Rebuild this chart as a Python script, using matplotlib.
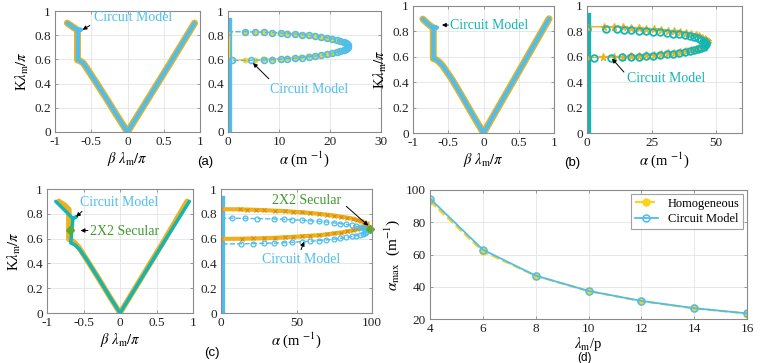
import numpy as np
import matplotlib
matplotlib.use('Agg')
import matplotlib.pyplot as plt

plt.rcParams['font.family'] = 'serif'
plt.rcParams['font.serif'] = ['Liberation Serif', 'DejaVu Serif']
plt.rcParams['mathtext.fontset'] = 'stix'

ORANGE = '#EDB120'
YELLOW = '#FFD21A'
BLUE = '#4DBEEE'
TEAL = '#14B5B5'
GREEN = '#3E9B2A'

# ---------------- Panel (a) : dispersion ----------------
beta_a_homo = [-0.83, -0.77, -0.72, -0.69, -0.69, -0.66, -0.61, -0.565, -0.45, -0.30, -0.15, 0.0, 0.30, 0.60, 0.925]
K_a_homo = [0.90, 0.875, 0.855, 0.84, 0.595, 0.59, 0.57, 0.53, 0.425, 0.285, 0.14, 0.0, 0.29, 0.58, 0.90]
beta_a_circ = [-0.83, -0.77, -0.72, -0.685, -0.645, -0.685, -0.685, -0.66, -0.61, -0.565, -0.45, -0.30, -0.15, 0.0, 0.30, 0.60, 0.925]
K_a_circ = [0.90, 0.875, 0.855, 0.845, 0.845, 0.845, 0.595, 0.59, 0.57, 0.53, 0.425, 0.285, 0.14, 0.0, 0.29, 0.58, 0.90]

# attenuation (a)
K_a_homo_up = [0.830, 0.829, 0.827, 0.825, 0.822, 0.818, 0.815, 0.810, 0.805, 0.800, 0.794, 0.787, 0.780, 0.771, 0.763, 0.755, 0.745, 0.736, 0.727, 0.717]
K_a_homo_lo = [0.708, 0.698, 0.689, 0.680, 0.670, 0.662, 0.654, 0.646, 0.639, 0.631, 0.626, 0.620, 0.615, 0.610, 0.607, 0.603, 0.600, 0.598, 0.596, 0.595]
alpha_a_homo_up = [0, 3.3, 5.2, 6.9, 8.6, 10.2, 11.5, 13.0, 14.3, 15.7, 16.9, 18.1, 19.2, 20.2, 21.0, 21.7, 22.4, 22.8, 23.1, 23.3]
alpha_a_homo_lo = [23.3, 23.1, 22.8, 22.4, 21.7, 21.0, 20.2, 19.2, 18.1, 16.9, 15.7, 14.3, 13.0, 11.5, 10.2, 8.6, 6.9, 5.2, 3.3, 0]
K_a_circ_up = [0.830, 0.829, 0.827, 0.825, 0.822, 0.818, 0.814, 0.810, 0.805, 0.799, 0.793, 0.786, 0.778, 0.770, 0.762, 0.753, 0.744, 0.734, 0.724, 0.715]
K_a_circ_lo = [0.705, 0.696, 0.686, 0.676, 0.667, 0.658, 0.650, 0.642, 0.634, 0.627, 0.621, 0.615, 0.610, 0.606, 0.602, 0.598, 0.595, 0.593, 0.591, 0.590]
alpha_a_circ_up = [0, 3.3, 5.2, 7.0, 8.7, 10.3, 11.6, 13.2, 14.5, 15.9, 17.1, 18.3, 19.4, 20.4, 21.3, 22.0, 22.7, 23.1, 23.4, 23.6]
alpha_a_circ_lo = [23.6, 23.4, 23.1, 22.7, 22.0, 21.3, 20.4, 19.4, 18.3, 17.1, 15.9, 14.5, 13.2, 11.6, 10.3, 8.7, 7.0, 4.5, 0.8, 0]

# ---------------- Panel (b) ----------------
beta_b_homo = [-0.86, -0.80, -0.745, -0.712, -0.712, -0.68, -0.64, -0.58, -0.45, -0.30, -0.15, 0.0, 0.30, 0.60, 0.93]
K_b_homo = [0.897, 0.865, 0.84, 0.83, 0.585, 0.58, 0.565, 0.53, 0.425, 0.285, 0.14, 0.0, 0.29, 0.58, 0.90]
beta_b_circ = [-0.86, -0.80, -0.745, -0.71, -0.665, -0.71, -0.71, -0.68, -0.64, -0.58, -0.45, -0.30, -0.15, 0.0, 0.30, 0.60, 0.93]
K_b_circ = [0.897, 0.865, 0.84, 0.83, 0.83, 0.83, 0.585, 0.58, 0.565, 0.53, 0.425, 0.285, 0.14, 0.0, 0.29, 0.58, 0.90]

K_b_homo_up = [0.837, 0.836, 0.834, 0.832, 0.829, 0.825, 0.821, 0.816, 0.812, 0.806, 0.800, 0.792, 0.785, 0.777, 0.768, 0.760, 0.750, 0.740, 0.731, 0.721]
K_b_homo_lo = [0.711, 0.702, 0.692, 0.682, 0.672, 0.664, 0.656, 0.647, 0.640, 0.633, 0.627, 0.620, 0.616, 0.611, 0.607, 0.604, 0.600, 0.598, 0.596, 0.595]
alpha_b_homo_up = [0, 6.6, 10.3, 13.8, 17.1, 20.3, 22.9, 25.9, 28.5, 31.3, 33.7, 36.1, 38.2, 40.3, 42.0, 43.4, 44.6, 45.6, 46.2, 46.5]
alpha_b_homo_lo = [46.5, 46.2, 45.6, 44.6, 43.4, 42.0, 40.3, 38.2, 36.1, 33.7, 31.3, 28.5, 25.9, 22.9, 20.3, 17.1, 13.8, 10.3, 6.2, 0]
K_b_circ_up = [0.818, 0.817, 0.815, 0.813, 0.810, 0.807, 0.803, 0.799, 0.794, 0.788, 0.783, 0.776, 0.769, 0.761, 0.753, 0.745, 0.736, 0.727, 0.718, 0.709]
K_b_circ_lo = [0.699, 0.690, 0.681, 0.672, 0.663, 0.655, 0.647, 0.639, 0.632, 0.625, 0.620, 0.614, 0.609, 0.605, 0.601, 0.598, 0.595, 0.593, 0.592, 0.591]
alpha_b_circ_up = [0, 7.2, 11.7, 14.3, 16.9, 20.1, 22.7, 25.7, 28.2, 31.0, 33.3, 35.7, 37.8, 39.8, 41.5, 42.9, 44.2, 45.1, 45.7, 46.0]
alpha_b_circ_lo = [46.0, 45.7, 45.1, 44.2, 42.9, 41.5, 39.8, 37.8, 35.7, 33.3, 31.0, 28.2, 25.7, 22.7, 20.1, 16.9, 13.7, 9.4, 2.9, 0]

# ---------------- Panel (c) ----------------
beta_c_homo = [-0.84, -0.76, -0.71, -0.70, -0.70, -0.66, -0.62, -0.565, -0.45, -0.30, -0.15, 0.0, 0.30, 0.60, 0.92]
K_c_homo = [0.90, 0.87, 0.84, 0.835, 0.595, 0.585, 0.565, 0.53, 0.425, 0.285, 0.14, 0.0, 0.29, 0.58, 0.90]
beta_c_circ = [-0.88, -0.76, -0.645, -0.60, -0.645, -0.675, -0.62, -0.55, -0.45, -0.30, -0.15, 0.0, 0.30, 0.60, 0.95]
K_c_circ = [0.90, 0.83, 0.762, 0.775, 0.762, 0.565, 0.55, 0.51, 0.425, 0.285, 0.14, 0.0, 0.285, 0.57, 0.90]
beta_c_sec = [-0.69]
K_c_sec = [0.67]

K_c_homo_up = [0.837, 0.836, 0.834, 0.832, 0.829, 0.825, 0.822, 0.817, 0.812, 0.806, 0.800, 0.793, 0.786, 0.777, 0.769, 0.761, 0.751, 0.741, 0.732, 0.722]
K_c_homo_lo = [0.713, 0.703, 0.694, 0.684, 0.675, 0.666, 0.658, 0.649, 0.642, 0.634, 0.627, 0.623, 0.618, 0.614, 0.610, 0.606, 0.603, 0.601, 0.599, 0.598]
alpha_c_homo_up = [0, 12.5, 17.0, 23.0, 28.7, 35.5, 42.1, 47.6, 53.8, 59.2, 64.9, 69.9, 75.0, 79.3, 83.6, 87.1, 90.0, 92.6, 94.6, 96.4]
alpha_c_homo_lo = [96.4, 95.8, 94.6, 92.6, 90.0, 87.1, 83.6, 79.3, 75.0, 69.9, 64.9, 59.2, 53.8, 47.6, 42.1, 35.5, 28.7, 21.4, 13.6, 0]
K_c_circ_up = [0.766, 0.765, 0.763, 0.761, 0.759, 0.756, 0.752, 0.748, 0.744, 0.739, 0.734, 0.727, 0.721, 0.714, 0.706, 0.699, 0.691, 0.682, 0.674, 0.666]
K_c_circ_lo = [0.657, 0.649, 0.641, 0.632, 0.624, 0.617, 0.609, 0.602, 0.596, 0.589, 0.584, 0.579, 0.575, 0.570, 0.567, 0.564, 0.562, 0.560, 0.558, 0.557]
alpha_c_circ_up = [0, 7.0, 16.0, 24.0, 35.3, 41.9, 47.3, 53.6, 58.8, 64.6, 69.5, 74.6, 78.9, 83.1, 86.7, 89.6, 92.2, 94.1, 95.3, 95.9]
alpha_c_circ_lo = [95.9, 95.3, 94.1, 92.2, 89.6, 86.7, 83.1, 78.9, 74.6, 69.5, 64.6, 58.8, 53.6, 47.3, 41.9, 35.3, 28.5, 21.3, 13.5, 0]
alpha_c_sec = [99.0]
K_c_sec_alpha = [0.68]

# passband (alpha = 0) lines
K_pass = [0.0, 0.91]
alpha_pass = [0.0, 0.0]
K_stop_a = [0.60, 0.83]

# ---------------- Panel (d) ----------------
lam_ratio = [4, 6, 8, 10, 12, 14, 16]
amax_homo = [93.0, 62.0, 46.8, 37.3, 31.1, 26.6, 23.4]
amax_circ = [94.7, 63.0, 46.9, 37.4, 31.2, 26.7, 23.5]

yticks01 = [0, 0.2, 0.4, 0.6, 0.8, 1]
yticklabels01 = ['0', '0.2', '0.4', '0.6', '0.8', '1']
bticks = [-1, -0.5, 0, 0.5, 1]
bticklabels = ['-1', '-0.5', '0', '0.5', '1']

W, H = 761, 363
fig = plt.figure(figsize=(W / 100, H / 100), dpi=100)


def add_ax(x0, x1, ytop, ybot):
    return fig.add_axes([x0 / W, (H - ybot) / H, (x1 - x0) / W, (ybot - ytop) / H])


def style(ax):
    ax.grid(True, color='#e4e4e4', lw=0.6)
    ax.set_axisbelow(True)
    for s in ax.spines.values():
        s.set_color('#8a8a8a')
        s.set_linewidth(0.8)
    ax.tick_params(direction='in', length=2.5, width=0.6, color='#8a8a8a',
                   labelsize=9.5, labelcolor='#222222', pad=3,
                   top=True, right=True)


def arrow(ax, tip, tail, color='k'):
    ax.annotate('', xy=tip, xytext=tail,
                arrowprops=dict(arrowstyle='-|>', color=color, lw=0.7,
                                mutation_scale=6, shrinkA=0, shrinkB=0))


def left_panel(ax, bh, kh, bc, kc, ccol, lw_h=5, lw_c=3):
    ax.plot(bh, kh, color=ORANGE, lw=lw_h, solid_capstyle='round', solid_joinstyle='round')
    ax.plot(bc, kc, color=ccol, lw=lw_c, solid_capstyle='round', solid_joinstyle='round')
    ax.set_xlim(-1, 1)
    ax.set_ylim(0, 1)
    ax.set_xticks(bticks)
    ax.set_xticklabels(bticklabels)
    ax.set_yticks(yticks01)
    ax.set_yticklabels(yticklabels01)
    ax.set_xlabel(r'$\beta\ \lambda_{\rm m}/\pi$', fontsize=10.5, labelpad=1)
    ax.set_ylabel(r'K$\lambda_{\rm m}/\pi$', fontsize=10.5, labelpad=2)
    style(ax)


def right_panel(ax, xmax, xt):
    ax.set_xlim(0, xmax)
    ax.set_ylim(0, 1)
    ax.set_xticks(xt)
    ax.set_yticks(yticks01)
    ax.set_yticklabels(yticklabels01)
    ax.set_xlabel(r'$\alpha$ (m $^{-1}$)', fontsize=10.5, labelpad=1)
    style(ax)


# ---- (a)
ax = add_ax(55, 200, 11, 132)
left_panel(ax, beta_a_homo, K_a_homo, beta_a_circ, K_a_circ, BLUE)
ax.text(-0.46, 0.95, 'Circuit Model', color=BLUE, fontsize=10, va='center')
arrow(ax, (-0.62, 0.845), (-0.52, 0.88))

ax = add_ax(228, 381, 11, 132)
right_panel(ax, 30, [0, 10, 20, 30])
ax.plot(alpha_pass, K_pass, color=BLUE, lw=6)
ax.plot(alpha_pass, K_stop_a, color=YELLOW, lw=2.5)
ax.plot(alpha_a_homo_up + alpha_a_homo_lo, K_a_homo_up + K_a_homo_lo, color=YELLOW,
        ls='--', lw=1, marker='o', ms=3.3, mfc=YELLOW, mec=YELLOW)
ax.plot(alpha_a_circ_up + alpha_a_circ_lo, K_a_circ_up + K_a_circ_lo, color=BLUE,
        ls='--', lw=1, marker='o', ms=4.2, mfc='none', mec=BLUE, mew=1.2)
ax.text(8.2, 0.35, 'Circuit Model', color=BLUE, fontsize=10, va='center')
arrow(ax, (4.9, 0.57), (8.0, 0.44))

# ---- (b)
ax = add_ax(413, 554, 6, 133)
left_panel(ax, beta_b_homo, K_b_homo, beta_b_circ, K_b_circ, BLUE)
ax.text(-0.47, 0.85, 'Circuit Model', color=TEAL, fontsize=10, va='center')
arrow(ax, (-0.59, 0.85), (-0.50, 0.85))

ax = add_ax(587, 742, 6, 133)
right_panel(ax, 60, [0, 25, 50])
ax.plot(alpha_pass, K_pass, color=TEAL, lw=6)
ax.plot(alpha_b_homo_up + alpha_b_homo_lo, K_b_homo_up + K_b_homo_lo, color=ORANGE,
        ls='-', lw=1, marker='*', ms=5.5, mfc=ORANGE, mec=ORANGE)
ax.plot(alpha_b_circ_up + alpha_b_circ_lo, K_b_circ_up + K_b_circ_lo, color=TEAL,
        ls='none', marker='o', ms=4.8, mfc='none', mec=TEAL, mew=1.3)
ax.text(15.6, 0.43, 'Circuit Model', color=TEAL, fontsize=10, va='center')
arrow(ax, (9.7, 0.585), (14.3, 0.48))

# ---- (c)
ax = add_ax(47, 193, 189, 313)
left_panel(ax, beta_c_homo, K_c_homo, beta_c_circ, K_c_circ, TEAL, lw_h=4, lw_c=2.5)
ax.plot(beta_c_sec, K_c_sec, ls='none', marker='D', ms=4, color='#5DAA2C')
ax.text(-0.55, 0.89, 'Circuit Model', color=BLUE, fontsize=10, va='center')
arrow(ax, (-0.60, 0.775), (-0.52, 0.82))
ax.text(-0.41, 0.66, '2X2 Secular', color=GREEN, fontsize=10, va='center')
arrow(ax, (-0.54, 0.665), (-0.44, 0.665))

ax = add_ax(221, 372, 189, 313)
right_panel(ax, 100, [0, 50, 100])
ax.plot(alpha_pass, K_pass, color=BLUE, lw=6)
ax.plot(alpha_c_homo_up + alpha_c_homo_lo, K_c_homo_up + K_c_homo_lo, color=ORANGE,
        ls='-', lw=3, marker='x', ms=3, mec='#D98E0A', mew=0.8)
ax.plot(alpha_c_circ_up + alpha_c_circ_lo, K_c_circ_up + K_c_circ_lo, color=BLUE,
        ls='--', lw=1, marker='o', ms=3.5, mfc='none', mec=BLUE, mew=0.9)
ax.plot(alpha_c_sec, K_c_sec_alpha, ls='none', marker='D', ms=4, color='#5DAA2C', clip_on=False)
ax.text(34, 0.91, '2X2 Secular', color=GREEN, fontsize=10, va='center')
arrow(ax, (97.5, 0.705), (83, 0.86))
ax.text(27, 0.43, 'Circuit Model', color=BLUE, fontsize=10, va='center')
arrow(ax, (55, 0.575), (53, 0.51))

# ---- (d)
ax = add_ax(430, 747, 190, 319)
ax.plot(lam_ratio, amax_homo, color=YELLOW, ls='--', lw=1.6, marker='o', ms=5,
        mfc=YELLOW, mec=YELLOW, label='Homogeneous')
ax.plot(lam_ratio, amax_circ, color=BLUE, ls='-', lw=1.3, marker='o', ms=5,
        mfc='none', mec=BLUE, mew=1.1, label='Circuit Model')
ax.set_xlim(4, 16)
ax.set_ylim(20, 100)
ax.set_xticks([4, 6, 8, 10, 12, 14, 16])
ax.set_yticks([20, 40, 60, 80, 100])
ax.set_xlabel(r'$\lambda_{\rm m}$/p', fontsize=10.5)
ax.xaxis.set_label_coords(0.5, -0.125)
ax.xaxis.label.set_va('top')
ax.set_ylabel(r'$\alpha_{\rm max}$  (m$^{-1}$)', fontsize=11, labelpad=3)
style(ax)
leg = ax.legend(loc='upper right', fontsize=9, frameon=True, fancybox=False,
                edgecolor='#8a8a8a', handlelength=1.8, borderpad=0.3,
                labelspacing=0.3, borderaxespad=0.3)
leg.get_frame().set_linewidth(0.8)

# panel labels
sans = ['Liberation Sans', 'DejaVu Sans']
fig.text(205 / W, 1 - 162 / H, '(a)', family=sans, fontsize=9.5, ha='center', va='center')
fig.text(572 / W, 1 - 163 / H, '(b)', family=sans, fontsize=9.5, ha='center', va='center')
fig.text(212 / W, 1 - 353 / H, '(c)', family=sans, fontsize=9.5, ha='center', va='center')
fig.text(585 / W, 1 - 358 / H, '(d)', family=sans, fontsize=8.5, ha='center', va='center')

fig.savefig('out.png', dpi=100)
